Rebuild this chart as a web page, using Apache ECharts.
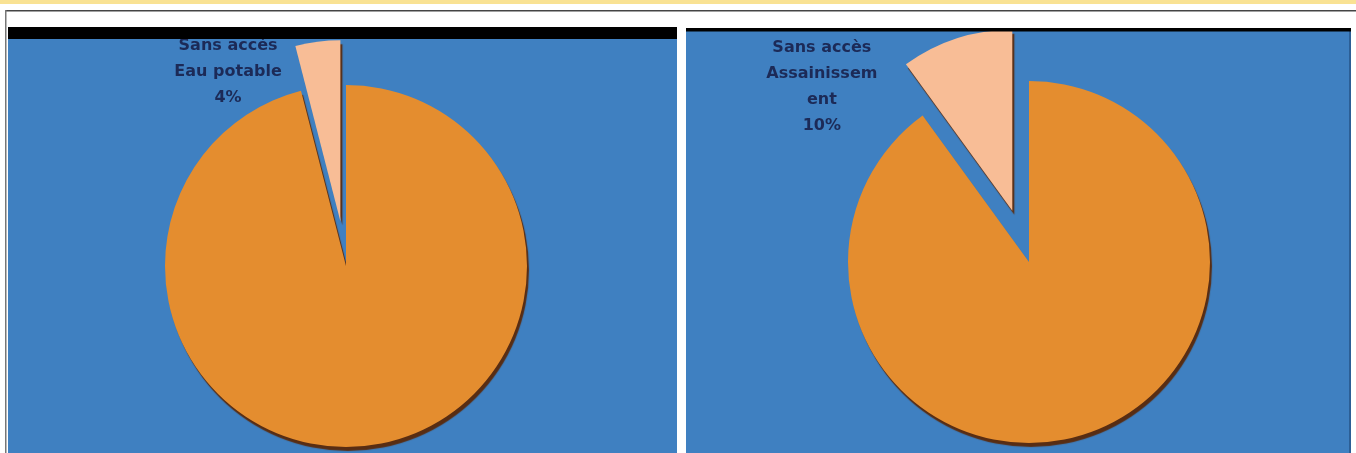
<!DOCTYPE html>
<html>
<head>
<meta charset="utf-8">
<script src="https://cdn.jsdelivr.net/npm/echarts@6/dist/echarts.min.js"></script>
<style>
html,body{margin:0;padding:0;background:#fff;}
#chart{width:1356px;height:453px;}
</style>
</head>
<body>
<div id="chart"></div>
<script>
// Data
const leftCategories = ['Avec accès Eau potable', 'Sans accès\nEau potable'];
const leftValues = [96, 4];
const rightCategories = ['Avec accès Assainissement', 'Sans accès\nAssainissem\nent'];
const rightValues = [90, 10];

const C_BLUE = '#3f80c1';
const C_ORANGE = '#e48d2f';
const C_PEACH = '#f8bd96';
const C_TEXT = '#1c2a57';

function buildData(cats, vals) {
  return cats.map((c, i) => ({
    name: c,
    value: vals[i],
    selected: i === 1,
    itemStyle: { color: i === 1 ? C_PEACH : C_ORANGE },
    label: { show: i === 1 },
    labelLine: { show: false }
  }));
}

function pieSeries(cats, vals, center, offset, labelShift) {
  return {
    type: 'pie',
    center: center,
    radius: [0, 181],
    startAngle: 90,
    clockwise: true,
    selectedMode: 'multiple',
    selectedOffset: offset,
    animation: false,
    emphasis: { disabled: true },
    itemStyle: {
      shadowColor: 'rgba(90,40,10,0.95)',
      shadowOffsetX: 2,
      shadowOffsetY: 4,
      shadowBlur: 1
    },
    label: {
      position: 'outside',
      formatter: p => p.name + '\n' + p.value + '%',
      color: C_TEXT,
      fontFamily: 'DejaVu Sans',
      fontWeight: 'bold',
      fontSize: 16,
      lineHeight: 26,
      align: 'center'
    },
    labelLine: {
      show: false,
      length: 5,
      length2: 5
    },
    labelLayout: function () {
      return { dx: labelShift[0], dy: labelShift[1], align: 'center', verticalAlign: 'top' };
    },
    data: buildData(cats, vals)
  };
}

const chart = echarts.init(document.getElementById('chart'), null, { renderer: 'canvas' });
chart.setOption({
  backgroundColor: '#ffffff',
  animation: false,
  graphic: [
    { type: 'rect', z: -10, shape: { x: 0, y: 0, width: 1356, height: 4 }, style: { fill: '#f9e293' } },
    { type: 'rect', z: -10, shape: { x: 5, y: 10, width: 1351, height: 1.5 }, style: { fill: '#444' } },
    { type: 'rect', z: -10, shape: { x: 5, y: 10, width: 1.5, height: 443 }, style: { fill: '#777' } },
    { type: 'rect', z: -10, shape: { x: 8, y: 27, width: 669, height: 426 }, style: { fill: C_BLUE } },
    { type: 'rect', z: -10, shape: { x: 686, y: 28, width: 665, height: 425 }, style: { fill: C_BLUE } },
    { type: 'rect', z: -10, shape: { x: 1349, y: 28, width: 2, height: 425 }, style: { fill: '#2c5f96' } },
    { type: 'rect', z: 100, shape: { x: 8, y: 27, width: 669, height: 12 }, style: { fill: '#000' } },
    { type: 'rect', z: 100, shape: { x: 686, y: 28, width: 665, height: 3.5 }, style: { fill: '#000' } }
  ],
  series: [
    pieSeries(leftCategories, leftValues, [346, 266], 45, [-79, -4]),
    pieSeries(rightCategories, rightValues, [1029, 262], 54, [-123, 1])
  ]
});
</script>
</body>
</html>
